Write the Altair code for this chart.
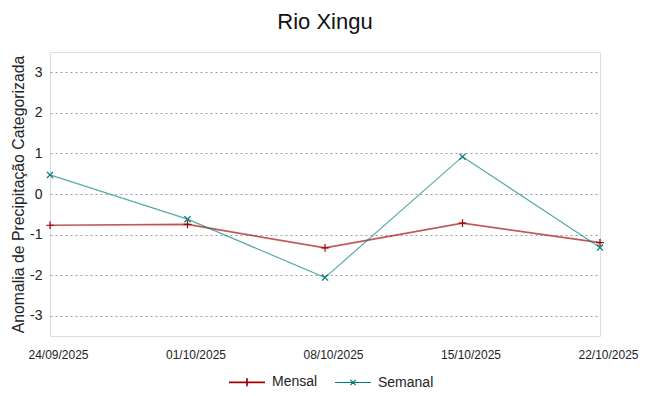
import altair as alt
import pandas as pd

dates = ["24/09/2025", "01/10/2025", "08/10/2025", "15/10/2025", "22/10/2025"]
mensal = [-0.77, -0.75, -1.33, -0.72, -1.2]
semanal = [0.47, -0.62, -2.06, 0.92, -1.32]
series = ["Mensal", "Semanal"]
colors = ["#a00000", "#007b7b"]
y_ticks = [-3, -2, -1, 0, 1, 2, 3]

rows = []
for d, m, s in zip(dates, mensal, semanal):
    rows.append({"data": d, "serie": "Mensal", "valor": m})
    rows.append({"data": d, "serie": "Semanal", "valor": s})
df = pd.DataFrame(rows)

x = alt.X("data:O", sort=dates, title=None,
          scale=alt.Scale(type="point", padding=0),
          axis=alt.Axis(labelAngle=0, labelFontSize=12, labelPadding=13, labelOffset=8,
                        tickSize=0, domain=False, grid=False,
                        labelFont="Liberation Sans", labelColor="#222"))
y = alt.Y("valor:Q", title="Anomalia de Precipitação Categorizada",
          scale=alt.Scale(domain=[-3.5, 3.5], nice=False, zero=False),
          axis=alt.Axis(values=y_ticks, labelFontSize=14, labelPadding=8,
                        labelExpr="datum.value + ''",
                        tickSize=0, domain=False, grid=True,
                        gridColor="#9a9a9a", gridDash=[2, 3], gridWidth=1,
                        titleFontSize=15.8, titleFontWeight="normal",
                        titleFont="Liberation Sans", labelFont="Liberation Sans",
                        titleColor="#222", labelColor="#222", titlePadding=3))

legend = alt.Legend(title=None, orient="none", direction="horizontal",
                    legendX=178, legendY=311, labelFontSize=14,
                    labelFont="Liberation Sans", labelColor="#222",
                    symbolSize=1296, symbolStrokeWidth=1.2, symbolOpacity=1,
                    labelOffset=6, columnPadding=14)
color = alt.Color("serie:N", sort=series,
                  scale=alt.Scale(domain=series, range=colors), legend=legend)
shape = alt.Shape("serie:N", sort=series,
                  scale=alt.Scale(domain=series,
                                  range=["M-1,0L1,0M0,-0.22L0,0.22",
                                         "M-1,0L1,0M-0.15,-0.15L0.15,0.15M-0.15,0.15L0.15,-0.15"]),
                  legend=legend)

lines = alt.Chart(df).mark_line(opacity=0.65).encode(
    x=x, y=y, color=color,
    strokeWidth=alt.StrokeWidth("serie:N", scale=alt.Scale(domain=series, range=[1.7, 1.2]), legend=None))
pts_m = alt.Chart(df).transform_filter("datum.serie === 'Mensal'").mark_point(
    filled=False, size=60, strokeWidth=1.2, opacity=1, shape="M-1,0L1,0M0,-1L0,1").encode(
    x=x, y=y, color=color)
pts_s = alt.Chart(df).transform_filter("datum.serie === 'Semanal'").mark_point(
    filled=False, size=60, strokeWidth=1.2, opacity=1,
    shape="M-0.8,-0.8L0.8,0.8M-0.8,0.8L0.8,-0.8").encode(
    x=x, y=y, color=color)
legend_layer = alt.Chart(df).transform_filter("false").mark_point(
    filled=False, size=1296, strokeWidth=1.2, opacity=1).encode(
    x=x, y=y, color=color, shape=shape)

chart = (lines + pts_m + pts_s + legend_layer).properties(
    width=550, height=284,
    title=alt.TitleParams("Rio Xingu", fontSize=22, font="Liberation Sans",
                          fontWeight="normal", color="#111", offset=18),
    autosize=alt.AutoSizeParams(type="none"),
    padding={"left": 42, "top": 44, "right": 40, "bottom": 60},
).configure_view(stroke="#606060", strokeWidth=1.3).configure(background="white")

chart.save("out.html", embed_options={"renderer": "svg", "actions": False})
